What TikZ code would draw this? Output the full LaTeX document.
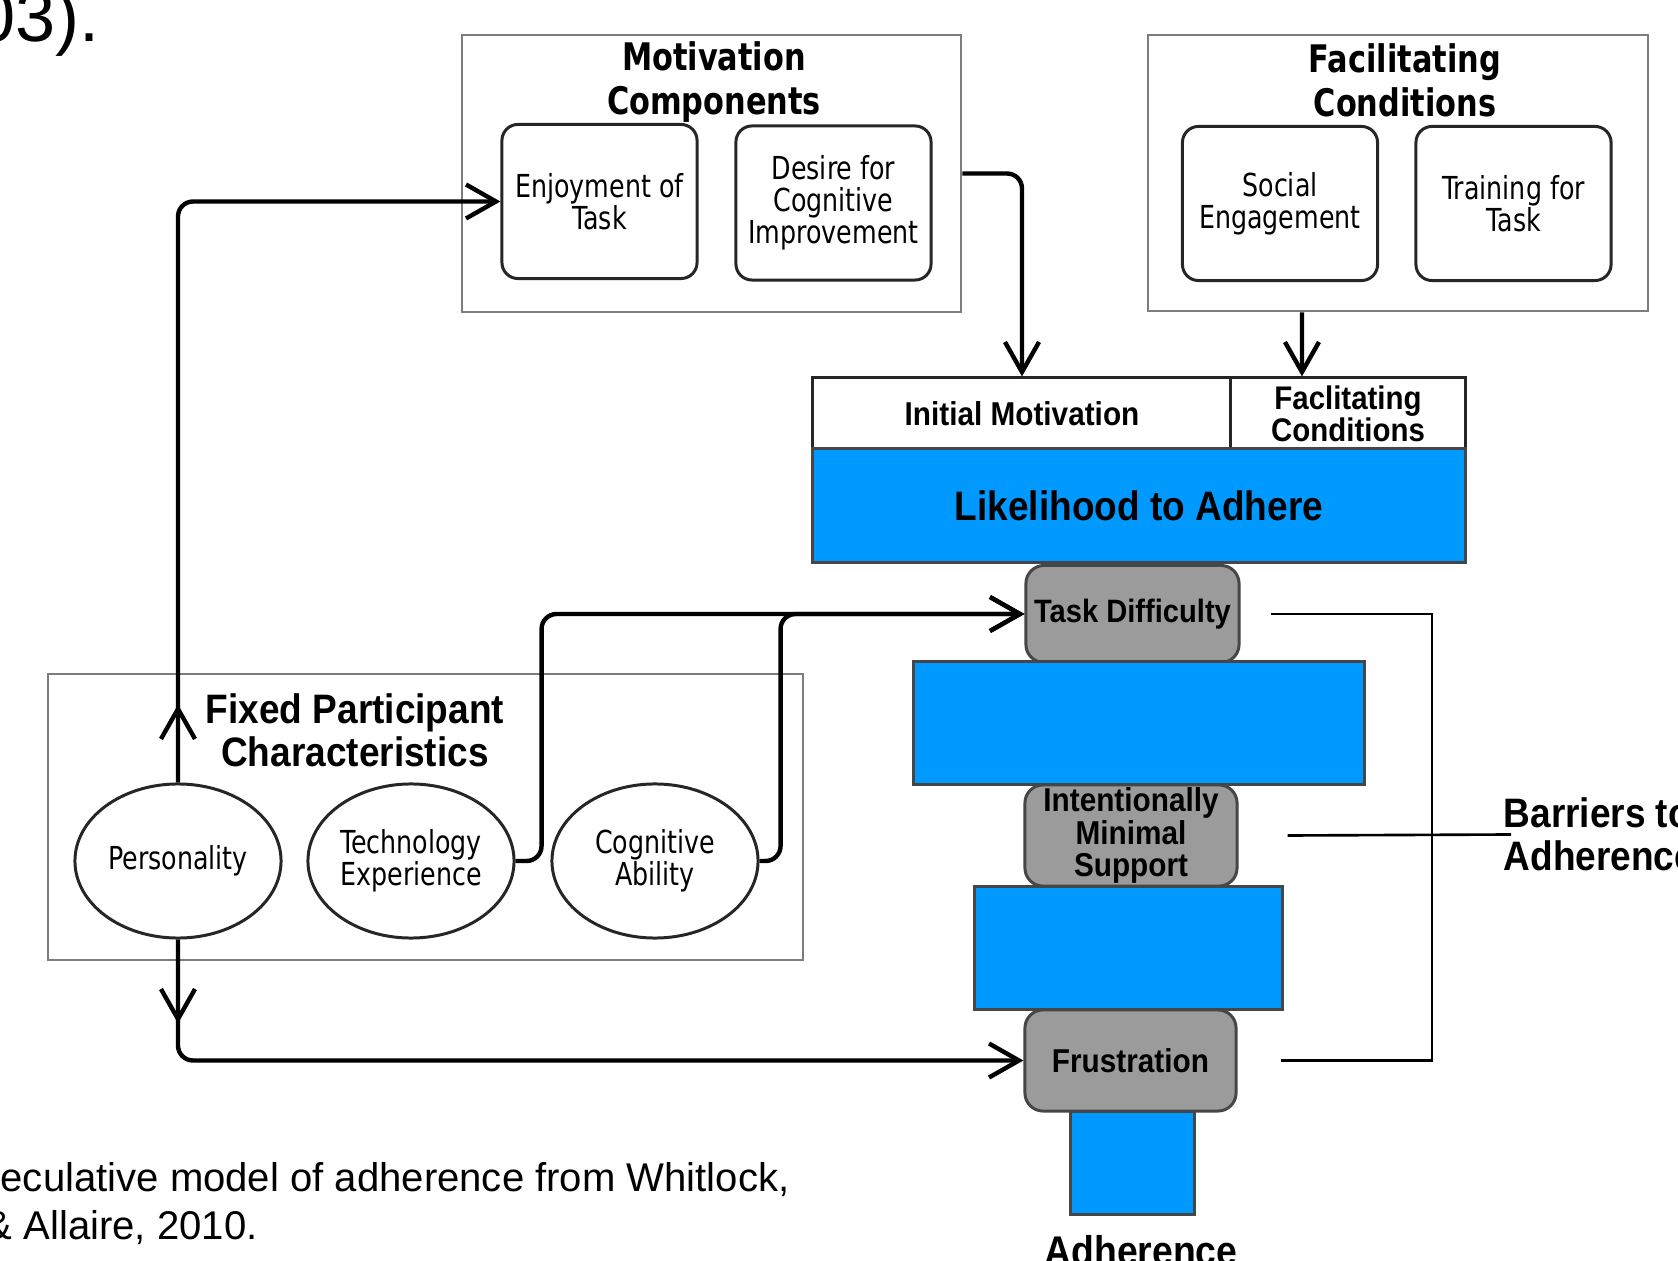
\documentclass[tikz,border=0pt]{standalone}
\usepackage{fontspec}
\setmainfont{Liberation Sans}
\newfontfamily\tahfont[FakeStretch=0.8]{DejaVu Sans}
\newfontfamily\narfont[FakeStretch=0.9]{Liberation Sans}
\usetikzlibrary{shapes.geometric,arrows.meta}
\definecolor{adblue}{RGB}{0,153,255}
\definecolor{barrgray}{RGB}{155,155,155}
\definecolor{edgegray}{RGB}{70,70,70}
\definecolor{groupgray}{RGB}{125,125,125}
\newcommand{\grouptitle}{\tahfont\bfseries\fontsize{10.8}{12.5}\selectfont\lineskiplimit=-20pt}
\newcommand{\itemtext}{\tahfont\fontsize{9}{9.1}\selectfont\lineskiplimit=-20pt}
\newcommand{\stagetext}[2]{\narfont\bfseries\fontsize{#1}{#2}\selectfont\lineskiplimit=-20pt}
\begin{document}
\begin{tikzpicture}[x=0.01cm, y=-0.01cm,
  group/.style={draw=groupgray, line width=0.7pt, inner sep=0pt},
  item/.style={draw=black!85, line width=0.85pt, rounded corners=0.16cm, inner sep=0pt,
    minimum width=1.95cm, minimum height=1.54cm, align=center, font=\itemtext},
  trait/.style={ellipse, draw=black!85, line width=0.85pt, inner sep=0pt,
    minimum width=2.06cm, minimum height=1.54cm, align=center, font=\itemtext},
  cell/.style={draw=black!85, line width=0.85pt, fill=white, inner sep=0pt, minimum height=0.71cm},
  bar/.style={draw=edgegray, line width=0.85pt, fill=adblue, inner sep=0pt},
  barrier/.style={draw=edgegray, line width=0.85pt, fill=barrgray, rounded corners=0.18cm,
    inner sep=0pt, align=center},
  conn/.style={line width=1.25pt, rounded corners=0.15cm, -{Straight Barb[length=0.3cm,width=0.34cm]}},
  bracketline/.style={line width=0.75pt}]
\path[use as bounding box, fill=white] (0,0) rectangle (1678,1261);

% text left over from the page
\node[anchor=base east, inner sep=0pt, font=\fontsize{20.5}{24}\selectfont] (prev) at (100,42) {03).};
\node[anchor=base west, inner sep=0pt, font=\fontsize{11.4}{14}\selectfont] (cap1) at (0,1191) {eculative model of adherence from Whitlock,};
\node[anchor=base west, inner sep=0pt, font=\fontsize{11.4}{14}\selectfont] (cap2) at (-15,1239) {\& Allaire, 2010.};

% motivation components
\node[group, minimum width=4.99cm, minimum height=2.77cm] (motbox) at (711.5,173.5) {};
\node[font=\grouptitle, align=center, inner sep=0pt] (mottitle) at (714,82) {Motivation\\Components};
\node[item] (enj) at (599.5,201.5) {Enjoyment of\\Task};
\node[item] (des) at (833.5,203) {Desire for\\Cognitive\\Improvement};

% facilitating conditions
\node[group, minimum width=5.00cm, minimum height=2.76cm] (facbox) at (1398,173) {};
\node[font=\grouptitle, align=center, inner sep=0pt] (factitle) at (1405,80) {Facilitating\\Conditions};
\node[item] (soc) at (1280,203.5) {Social\\Engagement};
\node[item] (trn) at (1513.5,203.5) {Training for\\Task};

% adherence funnel
\node[cell, minimum width=4.18cm, font=\stagetext{9.4}{11}] (initcell) at (1022,413.5) {Initial Motivation};
\node[cell, minimum width=2.34cm, align=center, font=\stagetext{9.3}{9.1}] (fcell) at (1348,413.5) {Faclitating\\Conditions};
\node[bar, minimum width=6.52cm, minimum height=1.13cm, font=\stagetext{11.7}{14}] (likely) at (1139,505.5) {Likelihood to Adhere};
\node[barrier, minimum width=2.13cm, minimum height=0.97cm, font=\stagetext{9.2}{10}] (taskd) at (1132.5,614) {Task Difficulty};
\node[bar, minimum width=4.50cm, minimum height=1.22cm] (bar2) at (1139,723) {};
\node[barrier, minimum width=2.12cm, minimum height=1.01cm, font=\stagetext{9.4}{9.3}] (intm) at (1131,835.5) {Intentionally\\Minimal\\Support};
\node[bar, minimum width=3.07cm, minimum height=1.22cm] (bar3) at (1128.5,948) {};
\node[barrier, minimum width=2.11cm, minimum height=1.01cm, font=\stagetext{9.4}{10}] (frus) at (1130.5,1060.5) {Frustration};
\node[bar, minimum width=1.23cm, minimum height=1.02cm] (bar4) at (1132.5,1163) {};
\node[anchor=base, inner sep=0pt, font=\stagetext{11.8}{14}] (adh) at (1141,1265) {Adherence};

% barriers bracket
\node[anchor=west, inner sep=0pt, align=left, font=\stagetext{11.7}{12.2}] (barr) at (1503,834.5) {Barriers to\\Adherence};
\coordinate (brk) at (1432,834);
\draw[bracketline] ([xshift=0.3cm]taskd.east) -| (brk) |- ([xshift=0.43cm]frus.east);
\draw[bracketline] ([xshift=0.49cm]intm.east) -- ([xshift=0.08cm]barr.west);

% fixed participant characteristics
\node[group, minimum width=7.55cm, minimum height=2.86cm] (fixbox) at (425.5,817) {};
\node[align=center, inner sep=0pt, font=\stagetext{11.7}{12.2}] (fixtitle) at (355,730) {Fixed Participant\\Characteristics};
\node[trait] (pers) at (178,861) {Personality};
\node[trait] (tech) at (411,861) {Technology\\Experience};
\node[trait] (cog) at (655,861) {Cognitive\\Ability};

% connectors
\draw[conn] (pers.north) |- (enj.west);
\draw[conn] (pers.north) -- ++(0,-78);
\draw[conn] (pers.south) |- (frus.west);
\draw[conn] (pers.south) -- ++(0,84);
\draw[conn] (tech.east) -- ++(26,0) |- (taskd.west);
\draw[conn] (cog.east) -- ++(21,0) |- (taskd.west);
\draw[conn] (motbox.east) -| (initcell.north);
\draw[conn] ([xshift=-0.96cm]facbox.south) -- ([xshift=-0.46cm]fcell.north);
\end{tikzpicture}
\end{document}
